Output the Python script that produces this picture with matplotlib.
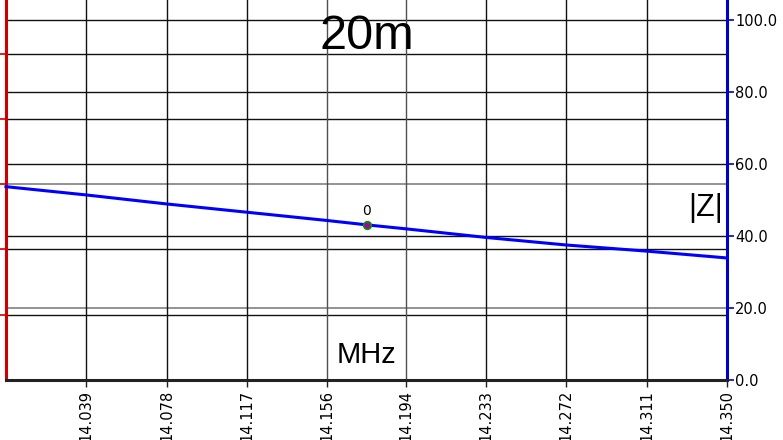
import matplotlib
matplotlib.use('Agg')
import matplotlib.pyplot as plt

plt.rcParams['font.family'] = ['DejaVu Sans']

# 資料
freq_mhz = [14.000, 14.039, 14.078, 14.117, 14.156, 14.175, 14.194, 14.233, 14.272, 14.311, 14.350]
z_abs = [53.7, 51.4, 48.9, 46.6, 44.3, 43.1, 42.0, 39.6, 37.5, 35.8, 33.9]
x_ticks = [14.039, 14.078, 14.117, 14.156, 14.194, 14.233, 14.272, 14.311, 14.350]
x_labels = ['14.039', '14.078', '14.117', '14.156', '14.194', '14.233', '14.272', '14.311', '14.350']
z_ticks = [0, 20, 40, 60, 80, 100]
z_labels = ['0.0', '20.0', '40.0', '60.0', '80.0', '100.0']
left_ticks = [1, 2, 3, 4, 5]
marker_freq = 14.175
marker_z = 43.1
marker_label = '0'

fig = plt.figure(figsize=(7.83, 4.4), dpi=100)
ax = fig.add_axes([6 / 783, 60 / 440, 721 / 783, 380 / 440])
ax.set_xlim(14.0, 14.35)
ax.set_ylim(0, 380 / 3.6)

# 左軸 (無標籤) 的格線
axl = ax.twinx()
axl.set_ylim(0, 380 / 65.3)
axl.set_yticks(left_ticks)
axl.yaxis.set_ticks_position('left')
axl.tick_params(axis='y', colors='#cc0000', length=5, width=1.2, labelleft=False, labelright=False)
for t in left_ticks:
    axl.axhline(t, color='#808080' if t == 3 else '#111111', lw=1.2 if t == 3 else 1.0, zorder=0)
axl.set_zorder(0)

# 右軸 |Z|
ax.set_zorder(1)
ax.patch.set_visible(False)
ax.yaxis.tick_right()
ax.set_yticks(z_ticks)
ax.set_yticklabels(z_labels, fontsize=10.5)
ax.tick_params(axis='y', colors='#0000cc', length=5, width=1.2, labelcolor='black', pad=1)
for t in z_ticks[1:]:
    ax.axhline(t, color='#808080' if t == 20 else '#111111', lw=1.2 if t == 20 else 1.0, zorder=0)

ax.set_xticks(x_ticks)
ax.set_xticklabels(x_labels, rotation=90, fontsize=10.5)
ax.tick_params(axis='x', colors='#222222', length=5, width=1.0, labelcolor='black', pad=2)
for t in x_ticks[:-1]:
    ax.axvline(t, color='#505050' if t in (14.156, 14.194) else '#111111', lw=1.0, zorder=0)

ax.spines['top'].set_visible(False)
ax.spines['left'].set_color('#cc0000')
ax.spines['left'].set_linewidth(2.2)
ax.spines['right'].set_color('#0000cc')
ax.spines['right'].set_linewidth(2.2)
ax.spines['bottom'].set_color('#222222')
ax.spines['bottom'].set_linewidth(2.2)
for s in ['top', 'left', 'right', 'bottom']:
    axl.spines[s].set_visible(False)

ax.plot(freq_mhz, z_abs, color='#0000ff', lw=2.2, zorder=3, clip_on=False)
ax.plot([marker_freq], [marker_z], 'o', ms=5.5, mfc='#aa00aa', mec='#009900', mew=1.2, zorder=4)
ax.text(marker_freq, marker_z + 1.8, marker_label, fontsize=10, ha='center', va='bottom', zorder=4)

big_font = ['Liberation Sans', 'DejaVu Sans']
ax.text(0.5, 0.905, '20m', transform=ax.transAxes, fontsize=35, ha='center', va='center', family=big_font)
ax.text(0.5, 0.065, 'MHz', transform=ax.transAxes, fontsize=21, ha='center', va='center', family=big_font)
ax.text(0.97, 0.452, '|Z|', transform=ax.transAxes, fontsize=22, ha='center', va='center', family=big_font)

fig.savefig('out.png', dpi=100)
